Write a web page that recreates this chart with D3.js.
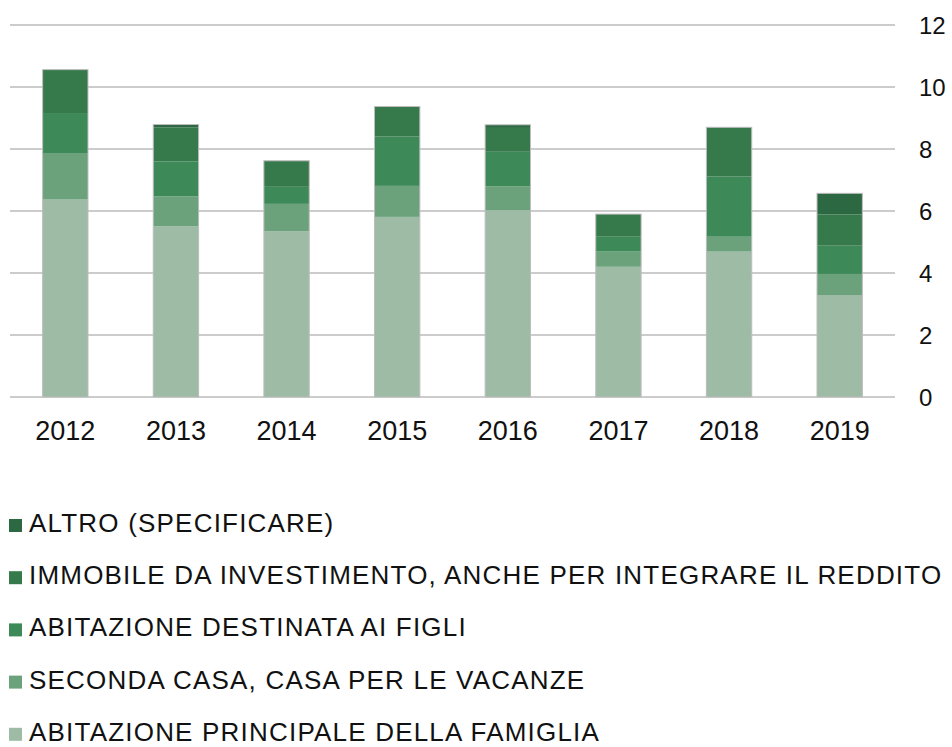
<!DOCTYPE html>
<html>
<head>
<meta charset="utf-8">
<script src="https://cdn.jsdelivr.net/npm/d3@7"></script>
<style>
  body { margin: 0; background: #fff; }
  text { font-family: "Liberation Sans", Arial, sans-serif; fill: #111; }
</style>
</head>
<body>
<div id="chart-area"></div>
<script>
const years = ['2012', '2013', '2014', '2015', '2016', '2017', '2018', '2019'];
const principale = [6.37, 5.51, 5.35, 5.81, 6.03, 4.20, 4.69, 3.29];
const seconda = [1.50, 0.96, 0.88, 1.00, 0.77, 0.49, 0.48, 0.68];
const figli = [1.29, 1.13, 0.55, 1.59, 1.11, 0.48, 1.94, 0.91];
const investimento = [1.40, 1.09, 0.84, 0.97, 0.77, 0.73, 1.59, 1.01];
const altro = [0, 0.10, 0, 0, 0.10, 0, 0, 0.68];
const yTicks = [0, 2, 4, 6, 8, 10, 12];

const seriesNames = [
    'ABITAZIONE PRINCIPALE DELLA FAMIGLIA',
    'SECONDA CASA, CASA PER LE VACANZE',
    'ABITAZIONE DESTINATA AI FIGLI',
    'IMMOBILE DA INVESTIMENTO, ANCHE PER INTEGRARE IL REDDITO',
    'ALTRO (SPECIFICARE)'
];
const seriesValues = [principale, seconda, figli, investimento, altro];
const colors = ['#9dbba5', '#6ba27c', '#3d8957', '#367a4c', '#2c6842'];

const W = 952, H = 747;
const plot = {left: 10, right: 895, top: 25, bottom: 397};

const svg = d3.select('#chart-area')
    .append('svg')
        .attr('width', W)
        .attr('height', H);

const x = d3.scaleBand()
    .domain(years)
    .range([plot.left, plot.right])
    .paddingInner(0.59)
    .paddingOuter(0.295);

const y = d3.scaleLinear()
    .domain([0, 12])
    .range([plot.bottom, plot.top]);

// gridlines
svg.append('g')
    .selectAll('line')
    .data(yTicks)
    .enter().append('line')
        .attr('x1', plot.left)
        .attr('x2', plot.right)
        .attr('y1', d => y(d))
        .attr('y2', d => y(d))
        .attr('stroke', '#cccccc')
        .attr('stroke-width', 2);

// y labels on the right
svg.append('g')
    .selectAll('text')
    .data(yTicks)
    .enter().append('text')
        .attr('x', 919)
        .attr('y', d => y(d))
        .attr('dy', '0.36em')
        .attr('font-size', '24px')
        .text(d => d);

// stacked bars
const table = years.map((yr, i) => {
    const row = {year: yr};
    seriesNames.forEach((n, k) => row[n] = seriesValues[k][i]);
    return row;
});
const stacked = d3.stack().keys(seriesNames)(table);

svg.append('g')
    .selectAll('g')
    .data(stacked)
    .enter().append('g')
        .attr('fill', (d, k) => colors[k])
    .selectAll('rect')
    .data(d => d)
    .enter().append('rect')
        .attr('x', d => x(d.data.year))
        .attr('y', d => y(d[1]))
        .attr('width', x.bandwidth())
        .attr('height', d => y(d[0]) - y(d[1]));

// outline of each bar
const totals = years.map((yr, i) => d3.sum(seriesValues, s => s[i]));
svg.append('g')
    .selectAll('rect')
    .data(years)
    .enter().append('rect')
        .attr('x', d => x(d))
        .attr('y', (d, i) => y(totals[i]))
        .attr('width', x.bandwidth())
        .attr('height', (d, i) => y(0) - y(totals[i]))
        .attr('fill', 'none')
        .attr('stroke', '#bdbdbd')
        .attr('stroke-width', 1);

// x labels
svg.append('g')
    .selectAll('text')
    .data(years)
    .enter().append('text')
        .attr('x', d => x(d) + x.bandwidth() / 2)
        .attr('y', 440)
        .attr('text-anchor', 'middle')
        .attr('font-size', '27px')
        .text(d => d);

// legend (top item is the last series)
const legendOrder = d3.range(seriesNames.length).reverse();
const legend = svg.append('g')
    .selectAll('g')
    .data(legendOrder)
    .enter().append('g')
        .attr('transform', (d, i) => `translate(0, ${532 + i * 52.2})`);

legend.append('rect')
    .attr('x', 9)
    .attr('y', -13)
    .attr('width', 13)
    .attr('height', 13)
    .attr('fill', d => colors[d]);

legend.append('text')
    .attr('x', 29)
    .attr('y', 0)
    .attr('font-size', '26px')
    .attr('letter-spacing', '1.2px')
    .text(d => seriesNames[d]);
</script>
</body>
</html>
